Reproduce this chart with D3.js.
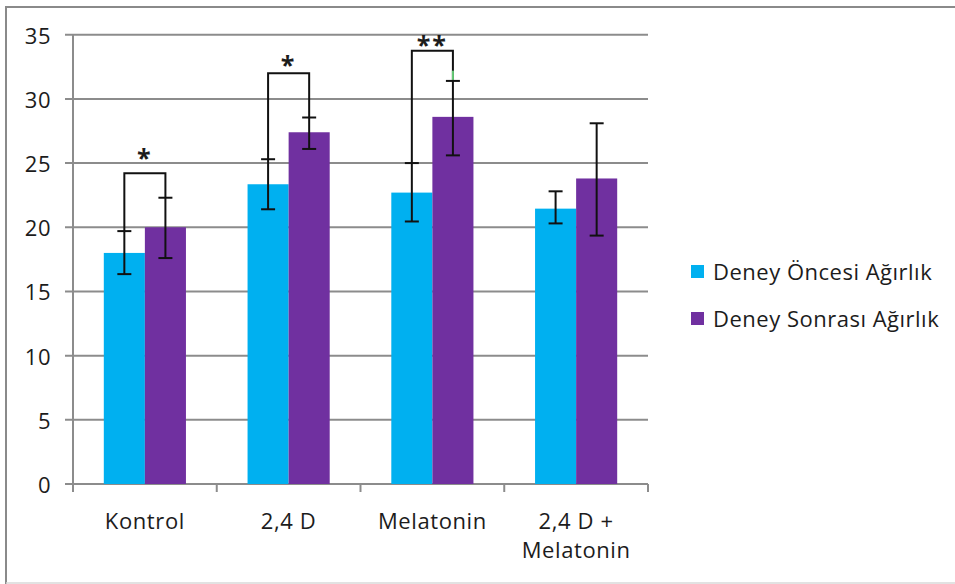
<!DOCTYPE html>
<html>
<head>
<meta charset="utf-8">
<title>Deney Ağırlık</title>
<script src="https://cdn.jsdelivr.net/npm/d3@7/dist/d3.min.js"></script>
<style>
  body { margin: 0; background: #fff; }
  svg text { font-family: "Open Sans", "DejaVu Sans", sans-serif; fill: #1c1c1c; }
</style>
</head>
<body>
<div id="chart"></div>
<script>
// data
var categories = ["Kontrol", "2,4 D", "Melatonin", "2,4 D +\nMelatonin"];
var seriesNames = ["Deney Öncesi Ağırlık", "Deney Sonrası Ağırlık"];
var seriesColors = ["#00b0f0", "#7030a0"];
var before = [18.0, 23.35, 22.7, 21.45];
var beforeHi = [19.7, 25.3, 25.0, 22.8];
var beforeLo = [16.35, 21.4, 20.45, 20.3];
var after = [20.0, 27.4, 28.6, 23.8];
var afterHi = [22.3, 28.55, 31.4, 28.1];
var afterLo = [17.6, 26.1, 25.6, 19.35];
var yTicks = [0, 5, 10, 15, 20, 25, 30, 35];
// significance brackets (category index, bracket level, star level, label)
var bracketCat = [0, 1, 2];
var bracketTop = [24.2, 32.0, 33.75];
var starLevel = [25.6, 32.85, 34.45];
var starText = ["*", "*", "**"];

var W = 955, H = 584;
var svg = d3.select("#chart").append("svg")
    .attr("width", W).attr("height", H);

// frame
svg.append("line").attr("x1", 6).attr("x2", W).attr("y1", 7).attr("y2", 7)
    .attr("stroke", "#8a8a8a").attr("stroke-width", 2);
svg.append("line").attr("x1", 6).attr("x2", 6).attr("y1", 6).attr("y2", 584)
    .attr("stroke", "#8a8a8a").attr("stroke-width", 2);
svg.append("line").attr("x1", 6).attr("x2", W).attr("y1", 583).attr("y2", 583)
    .attr("stroke", "#d8d8d8").attr("stroke-width", 1.5);

var x = d3.scaleBand().domain(categories).range([73, 648]);
var xs = d3.scaleBand().domain([0, 1]).range([0, x.bandwidth()]).paddingOuter(0.75);
var y = d3.scaleLinear().domain([0, 35]).range([484, 34.7]);

// gridlines
svg.append("g").selectAll("line").data(yTicks).enter().append("line")
    .attr("x1", 65).attr("x2", 648)
    .attr("y1", function(d) { return y(d); }).attr("y2", function(d) { return y(d); })
    .attr("stroke", "#8c8c8c").attr("stroke-width", 2);

// y labels
svg.append("g").selectAll("text").data(yTicks).enter().append("text")
    .attr("x", 51).attr("y", function(d) { return y(d) + 9; })
    .attr("text-anchor", "end").attr("font-size", 22).attr("letter-spacing", 0.5)
    .text(function(d) { return d; });

// axis lines
svg.append("line").attr("x1", 73).attr("x2", 73).attr("y1", y(35)).attr("y2", 492)
    .attr("stroke", "#8c8c8c").attr("stroke-width", 2);
var bounds = categories.map(function(c) { return x(c); }).concat([648]);
svg.append("g").selectAll("line").data(bounds.slice(1)).enter().append("line")
    .attr("x1", function(d) { return d; }).attr("x2", function(d) { return d; })
    .attr("y1", 484).attr("y2", 492)
    .attr("stroke", "#8c8c8c").attr("stroke-width", 2);

// bars
var vals = [before, after];
var his = [beforeHi, afterHi];
var los = [beforeLo, afterLo];
vals.forEach(function(v, s) {
  svg.append("g").selectAll("rect").data(v).enter().append("rect")
    .attr("x", function(d, i) { return x(categories[i]) + xs(s); })
    .attr("width", xs.bandwidth())
    .attr("y", function(d) { return y(d); })
    .attr("height", function(d) { return y(0) - y(d); })
    .attr("fill", seriesColors[s]);
});

// error bars
function cx(i, s) { return x(categories[i]) + xs(s) + xs.bandwidth() / 2; }
[0, 1].forEach(function(s) {
  var g = svg.append("g").attr("stroke", "#111").attr("stroke-width", 2);
  his[s].forEach(function(h, i) {
    var c = cx(i, s);
    g.append("line").attr("x1", c).attr("x2", c).attr("y1", y(h)).attr("y2", y(los[s][i]));
    g.append("line").attr("x1", c - 7).attr("x2", c + 7).attr("y1", y(h)).attr("y2", y(h));
    g.append("line").attr("x1", c - 7).attr("x2", c + 7).attr("y1", y(los[s][i])).attr("y2", y(los[s][i]));
  });
});

// brackets
bracketCat.forEach(function(ci, k) {
  var l = cx(ci, 0), r = cx(ci, 1);
  var top = y(bracketTop[k]);
  svg.append("path")
    .attr("d", "M" + l + "," + y(beforeHi[ci]) + "V" + top + "H" + r + "V" + y(afterHi[ci]))
    .attr("fill", "none").attr("stroke", "#111").attr("stroke-width", 2);
  svg.append("text")
    .attr("x", (l + r) / 2).attr("y", y(starLevel[k]) + 12)
    .attr("text-anchor", "middle").attr("font-size", 25).attr("font-weight", "bold")
    .attr("letter-spacing", 2)
    .text(starText[k]);
});
// small green glitch on melatonin bracket
svg.append("line").attr("x1", cx(2, 1)).attr("x2", cx(2, 1))
  .attr("y1", y(afterHi[2]) - 1).attr("y2", y(afterHi[2] + 0.8))
  .attr("stroke", "#66cc77").attr("stroke-width", 2);

// x labels
categories.forEach(function(c) {
  var lines = c.split("\n");
  var t = svg.append("text").attr("text-anchor", "middle").attr("font-size", 22)
    .attr("letter-spacing", 0.6);
  lines.forEach(function(ln, j) {
    t.append("tspan").attr("x", x(c) + x.bandwidth() / 2).attr("y", 529 + j * 29).text(ln);
  });
});

// legend
seriesNames.forEach(function(n, i) {
  var yy = 272 + i * 47;
  svg.append("rect").attr("x", 691).attr("y", yy - 7).attr("width", 13).attr("height", 13)
    .attr("fill", seriesColors[i]);
  svg.append("text").attr("x", 713).attr("y", yy + 8).attr("font-size", 22)
    .attr("letter-spacing", 0.5)
    .text(n);
});
</script>
</body>
</html>
